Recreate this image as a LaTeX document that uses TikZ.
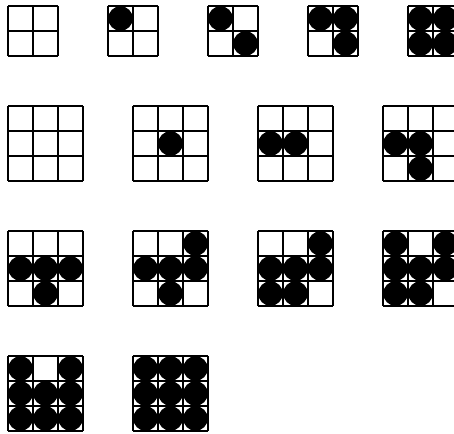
\documentclass[tikz,border=0pt]{standalone}
\usepackage{tikz}
\tikzset{
  boardline/.style = {draw=black, line width=0.6pt},
  stone/.style     = {fill=black}
}

\begin{document}
\begin{tikzpicture}[x=0.5cm, y=-0.5cm]
\clip (0,0) rectangle (18.16,17.36);
% ---- Boards (cell = 1) ----
\foreach \bx/\by/\bn in {%
  0.32/0.24/2, 4.32/0.24/2, 8.32/0.24/2, 12.32/0.24/2, 16.32/0.24/2,
  0.32/4.24/3, 5.32/4.24/3, 10.32/4.24/3, 15.32/4.24/3,
  0.32/9.24/3, 5.32/9.24/3, 10.32/9.24/3, 15.32/9.24/3,
  0.32/14.24/3, 5.32/14.24/3} {
  \foreach \i in {0,...,\bn} {
    \draw[boardline] (\bx+\i,\by) -- (\bx+\i,\by+\bn);
    \draw[boardline] (\bx,\by+\i) -- (\bx+\bn,\by+\i);
  }
}

% ---- Stones (col/row, row counted from the top) ----
\foreach \bx/\by/\cells in {%
  4.32/0.24/{0/0},
  8.32/0.24/{0/0,1/1},
  12.32/0.24/{0/0,1/0,1/1},
  16.32/0.24/{0/0,1/0,0/1,1/1},
  5.32/4.24/{1/1},
  10.32/4.24/{0/1,1/1},
  15.32/4.24/{0/1,1/1,1/2},
  0.32/9.24/{0/1,1/1,2/1,1/2},
  5.32/9.24/{2/0,0/1,1/1,2/1,1/2},
  10.32/9.24/{2/0,0/1,1/1,2/1,0/2,1/2},
  15.32/9.24/{0/0,2/0,0/1,1/1,2/1,0/2,1/2},
  0.32/14.24/{0/0,2/0,0/1,1/1,2/1,0/2,1/2,2/2},
  5.32/14.24/{0/0,1/0,2/0,0/1,1/1,2/1,0/2,1/2,2/2}} {
  \foreach \c/\r in \cells
    \fill[stone] (\bx+\c+0.5,\by+\r+0.5) circle (0.49);
}
\end{tikzpicture}
\end{document}
